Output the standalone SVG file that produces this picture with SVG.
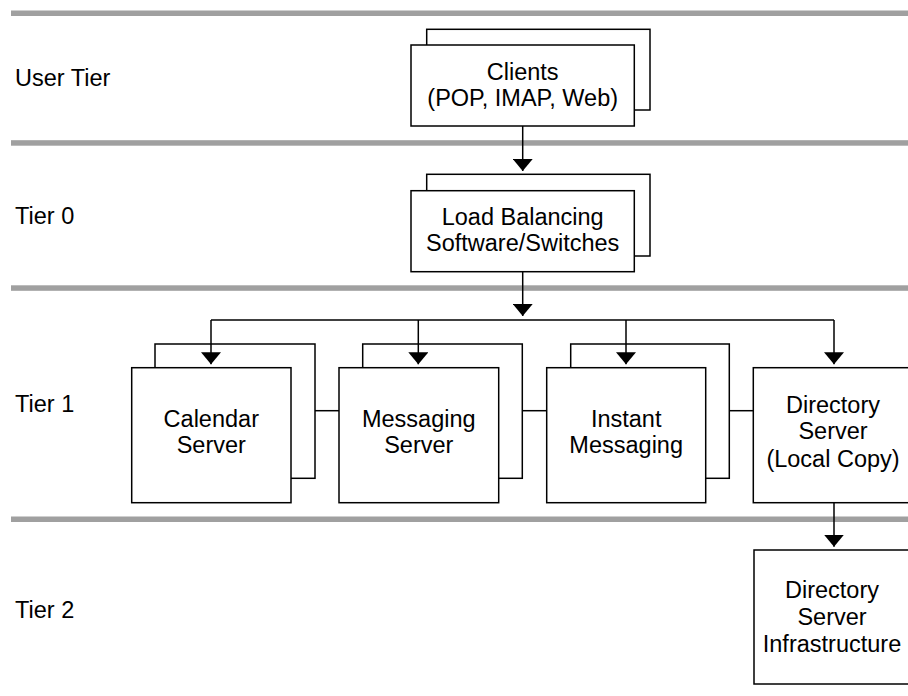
<svg xmlns="http://www.w3.org/2000/svg" width="908" height="696" viewBox="0 0 908 696">
<style>
  .band { fill: #a0a0a0; }
  .box { fill: #ffffff; stroke: #000000; stroke-width: 1.5; }
  .line { fill: none; stroke: #000000; stroke-width: 1.5; }
  text { font-family: "Liberation Sans", Arial, Helvetica, sans-serif; font-size: 23.5px; fill: #000000; }
  .c { text-anchor: middle; }
</style>
<defs>
  <marker id="arrow" viewBox="0 0 12 20" refX="12" refY="10" markerWidth="12" markerHeight="20" markerUnits="userSpaceOnUse" orient="auto">
    <path d="M0,0 L12,10 L0,20 Z" fill="#000000"/>
  </marker>
</defs>
<rect width="908" height="696" fill="#ffffff"/>
<g id="bands">
  <rect class="band" x="11" y="10.5" width="897" height="5.5"/>
  <rect class="band" x="11" y="140.2" width="897" height="5.5"/>
  <rect class="band" x="11" y="285.3" width="897" height="5.5"/>
  <rect class="band" x="11" y="516.5" width="897" height="5.5"/>
</g>
<g id="tier-labels">
  <text x="15" y="86">User Tier</text>
  <text x="15" y="224">Tier 0</text>
  <text x="15" y="411.7">Tier 1</text>
  <text x="15" y="618.3">Tier 2</text>
</g>
<g id="clients">
  <rect class="box" x="426.7" y="29.3" width="223.3" height="80.7"/>
  <rect class="box" x="411" y="45" width="223.3" height="81"/>
  <text class="c" x="522.7" y="79.5">Clients</text>
  <text class="c" x="522.7" y="106">(POP, IMAP, Web)</text>
</g>
<g id="load-balancing">
  <rect class="box" x="426.7" y="174.3" width="223.3" height="81.7"/>
  <rect class="box" x="411" y="190.7" width="223.3" height="81"/>
  <text class="c" x="522.7" y="225">Load Balancing</text>
  <text class="c" x="522.7" y="251">Software/Switches</text>
</g>
<g id="calendar-server">
  <rect class="box" x="155" y="344" width="160" height="134.3"/>
  <rect class="box" x="131.7" y="367.7" width="159.3" height="135"/>
  <text class="c" x="211.3" y="426.7">Calendar</text>
  <text class="c" x="211.3" y="453.3">Server</text>
</g>
<g id="messaging-server">
  <rect class="box" x="362.7" y="344" width="159.6" height="134.3"/>
  <rect class="box" x="339" y="367.7" width="159.7" height="135"/>
  <text class="c" x="418.8" y="426.7">Messaging</text>
  <text class="c" x="418.8" y="453.3">Server</text>
</g>
<g id="instant-messaging">
  <rect class="box" x="570.7" y="344" width="158.6" height="134.3"/>
  <rect class="box" x="546.7" y="367.7" width="159" height="135"/>
  <text class="c" x="626.2" y="426.7">Instant</text>
  <text class="c" x="626.2" y="453.3">Messaging</text>
</g>
<g id="directory-local">
  <rect class="box" x="753.3" y="367.7" width="160" height="135"/>
  <text class="c" x="833" y="413.3">Directory</text>
  <text class="c" x="833" y="439.3">Server</text>
  <text class="c" x="833" y="466.7">(Local Copy)</text>
</g>
<g id="directory-infrastructure">
  <rect class="box" x="754" y="550" width="160" height="134"/>
  <text class="c" x="832" y="598.3">Directory</text>
  <text class="c" x="832" y="625">Server</text>
  <text class="c" x="832" y="651.7">Infrastructure</text>
</g>
<g id="connectors">
  <line class="line" x1="522.7" y1="126" x2="522.7" y2="171" marker-end="url(#arrow)"/>
  <line class="line" x1="522.7" y1="271.7" x2="522.7" y2="316" marker-end="url(#arrow)"/>
  <polyline class="line" points="211,320 834,320"/>
  <line class="line" x1="211" y1="320" x2="211" y2="364.3" marker-end="url(#arrow)"/>
  <line class="line" x1="418.3" y1="320" x2="418.3" y2="364.3" marker-end="url(#arrow)"/>
  <line class="line" x1="626" y1="320" x2="626" y2="364.3" marker-end="url(#arrow)"/>
  <line class="line" x1="834" y1="320" x2="834" y2="364.3" marker-end="url(#arrow)"/>
  <line class="line" x1="315" y1="410.7" x2="339" y2="410.7"/>
  <line class="line" x1="522.3" y1="410.7" x2="546.7" y2="410.7"/>
  <line class="line" x1="729.3" y1="410.7" x2="753.3" y2="410.7"/>
  <line class="line" x1="834" y1="502.7" x2="834" y2="546.7" marker-end="url(#arrow)"/>
</g>
</svg>
